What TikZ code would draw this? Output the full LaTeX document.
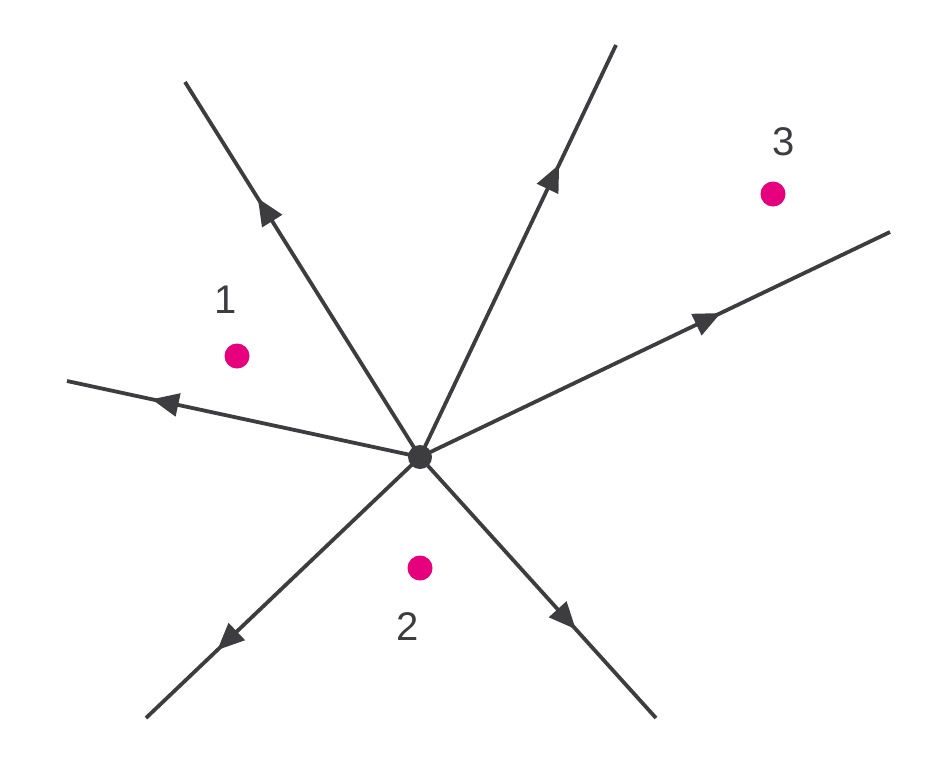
\documentclass[tikz,border=0pt]{standalone}
\usepackage{fontspec}
\setmainfont{Liberation Sans}
\usetikzlibrary{arrows.meta,decorations.markings}
\definecolor{ink}{HTML}{3D3D3F}
\definecolor{pinkdot}{HTML}{E6007E}
\tikzset{
  ray/.style={draw=ink, line width=3.8pt, postaction={decorate}, decoration={markings, mark=at position #1 with {\arrow{Triangle[length=27pt,width=23pt]}}}},
  hub/.style={circle, fill=ink, inner sep=0pt, minimum size=24pt},
  pt/.style={circle, fill=pinkdot, inner sep=0pt, minimum size=25pt},
  lbl/.style={text=ink, font=\fontsize{40}{44}\selectfont, inner sep=0pt}
}
\begin{document}
\begin{tikzpicture}[x=1pt,y=-1pt]
\useasboundingbox (0,0) rectangle (947,772);
\node[hub] (c) at (420,457) {};
\coordinate (eul) at (185,82);
\coordinate (et) at (616,45);
\coordinate (er) at (890,232);
\coordinate (el) at (67,381);
\coordinate (ell) at (146,718);
\coordinate (elr) at (656,718);
\draw[ray=0.69] (c.center) -- (eul);
\draw[ray=0.71] (c.center) -- (et);
\draw[ray=0.64] (c.center) -- (er);
\draw[ray=0.76] (c.center) -- (el);
\draw[ray=0.74] (c.center) -- (ell);
\draw[ray=0.66] (c.center) -- (elr);
\node[pt] (p1) at (237,356) {};
\node[pt] (p2) at (420,568) {};
\node[pt] (p3) at (773,194) {};
\node[lbl] (l1) at (226,300) {1};
\node[lbl] (l2) at (408,627) {2};
\node[lbl] (l3) at (784,142) {3};
\end{tikzpicture}
\end{document}
